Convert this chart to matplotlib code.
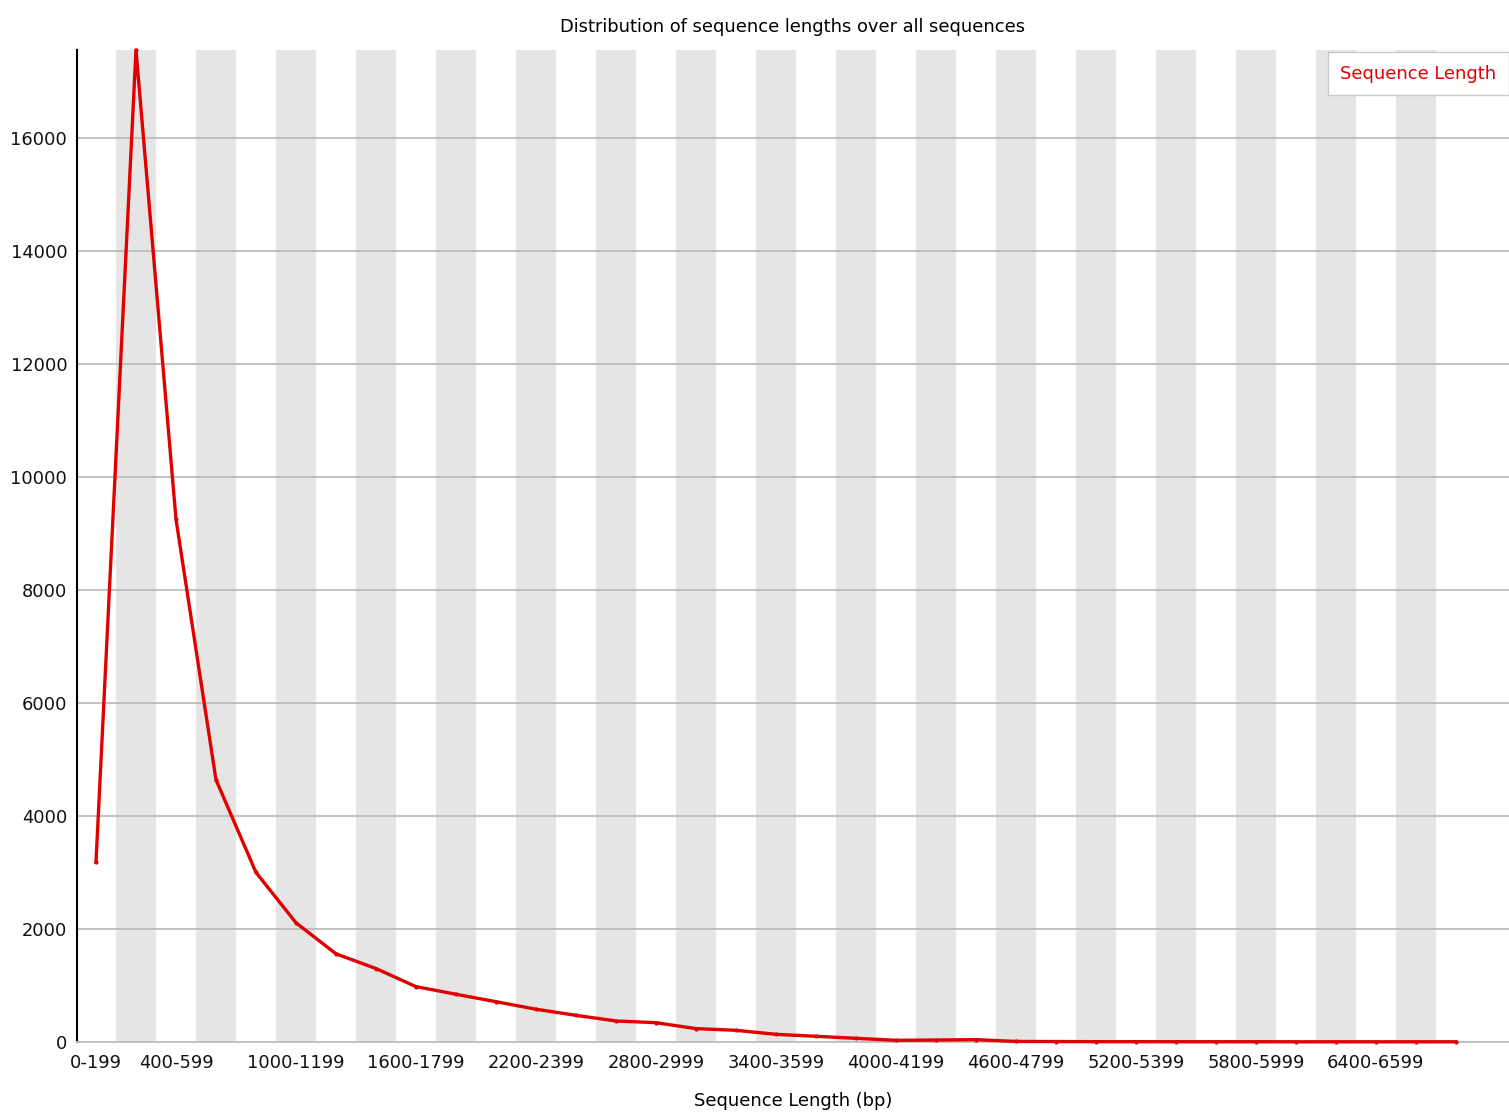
import numpy as np
import matplotlib
matplotlib.use("Agg")
import matplotlib.pyplot as plt

# length bins (bp), 200 wide
BIN_STARTS = list(range(0, 7000, 200))
CATEGORIES = [f"{s}-{s + 199}" for s in BIN_STARTS]

# read counts per bin
COUNTS = [3180, 17550, 9250, 4640, 3000, 2110, 1560, 1300, 980, 845,
          713, 580, 472, 372, 342, 237, 207, 136, 101, 65,
          30, 35, 42, 10, 8, 6, 6, 5, 5, 5,
          4, 4, 4, 4, 4]

# FastQC only labels some of the bins
LABEL_IDX = [0, 2, 5, 8, 11, 14, 17, 20, 23, 26, 29, 32]

x = np.arange(len(CATEGORIES))
FS = 12.9

fig = plt.figure(figsize=(15.09, 11.12), dpi=100)
ax = fig.add_axes([77 / 1509, 1 - 1042 / 1112, 1 - 77 / 1509, (1042 - 50) / 1112])

# alternating grey stripes
for i in x:
    if i % 2 == 1:
        ax.axvspan(i - 0.5, i + 0.5, color="#e5e5e5", lw=0, zorder=0)

ax.set_ylim(0, max(COUNTS))
ax.set_xlim(-0.475, 35.33)
ax.set_yticks(range(0, 17000, 2000))
ax.yaxis.grid(True, color="#bdbdbd", lw=1.3, zorder=1)
ax.set_axisbelow(True)

ax.plot(x, COUNTS, color="#e00000", lw=2.4, marker="o", ms=2,
        label="Sequence Length", zorder=3, clip_on=False)

ax.set_xticks(LABEL_IDX)
ax.set_xticklabels([CATEGORIES[i] for i in LABEL_IDX])
ax.tick_params(axis="both", length=0, labelsize=FS, colors="#111111")
ax.tick_params(axis="x", pad=9)
ax.tick_params(axis="y", pad=7)

for s in ["top", "right"]:
    ax.spines[s].set_visible(False)
ax.spines["left"].set_color("black")
ax.spines["left"].set_linewidth(1.5)
ax.spines["bottom"].set_color("#bdbdbd")
ax.spines["bottom"].set_linewidth(1.3)

ax.set_xlabel("Sequence Length (bp)", fontsize=FS, labelpad=14)
ax.set_title("Distribution of sequence lengths over all sequences", fontsize=FS, pad=13)

leg = ax.legend(loc="upper right", bbox_to_anchor=(1.0, 0.998),
                handlelength=0, handletextpad=0, markerscale=0,
                fontsize=FS, labelcolor="#e00000", fancybox=False,
                framealpha=1, edgecolor="#c8c8c8", borderaxespad=0,
                borderpad=0.7)
for h in leg.legend_handles:
    h.set_visible(False)

plt.savefig("out.png", dpi=100)
